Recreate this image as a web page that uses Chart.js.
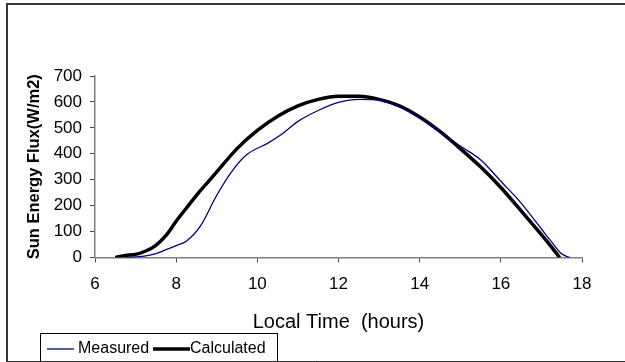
<!DOCTYPE html>
<html>
<head>
<meta charset="utf-8">
<script src="https://cdn.jsdelivr.net/npm/chart.js@4"></script>
<style>
  html, body { margin: 0; padding: 0; background: #fff; }
  canvas { display: block; }
</style>
</head>
<body>
<canvas id="chart" width="625" height="362"></canvas>
<script>
// tijd (uur) en gemeten / berekende flux (W/m2)
const measuredTime = [6.75, 7.0, 7.25, 7.5, 7.75, 8.0, 8.25, 8.6, 9.0, 9.4, 9.75, 10.25, 10.6, 11.0, 11.5, 12.0, 12.5, 13.0, 13.5, 14.0, 14.5, 14.8, 15.0, 15.5, 16.0, 16.5, 17.0, 17.25, 17.5, 17.7];
const measuredFlux = [0, 2, 6, 15, 30, 46, 63, 122, 240, 338, 398, 440, 475, 525, 567, 598, 610, 608, 583, 540, 485, 452, 430, 377, 294, 210, 110, 60, 14, 0];

const calcTime = [6.5, 6.75, 7.0, 7.25, 7.5, 7.75, 8.0, 8.25, 8.5, 8.75, 9.0, 9.5, 10.0, 10.5, 11.0, 11.5, 12.0, 12.5, 13.0, 13.5, 14.0, 14.5, 15.0, 15.5, 16.0, 16.5, 17.0, 17.25, 17.45];
const calcFlux = [0, 8, 12, 25, 47, 85, 140, 190, 240, 285, 330, 420, 490, 545, 585, 610, 622, 622, 610, 585, 542, 486, 420, 350, 270, 180, 88, 40, 0];

const seriesNames = ["Measured", "Calculated"];
const xTitle = "Local Time  (hours)";
const yTitle = "Sun Energy Flux(W/m2)";

const FONT = 'Arial, "Liberation Sans", sans-serif';

const toPoints = (xs, ys) => xs.map((x, i) => ({ x: x, y: ys[i] }));

// witte achtergrond, kader en legenda met rand
const framePlugin = {
    id: 'frame',
    beforeDraw(chart) {
        const c = chart.ctx;
        c.save();
        c.fillStyle = '#fff';
        c.fillRect(0, 0, chart.width, chart.height);
        c.restore();
    },
    afterDraw(chart) {
        const c = chart.ctx;
        c.save();
        c.strokeStyle = '#333';
        c.lineWidth = 2;
        c.beginPath();
        c.moveTo(7, 361);
        c.lineTo(7, 4);
        c.lineTo(625, 4);
        c.stroke();
        c.lineWidth = 1;
        c.beginPath();
        c.moveTo(6, 361.5);
        c.lineTo(625, 361.5);
        c.stroke();

        // legenda
        c.strokeStyle = '#000';
        c.lineWidth = 1;
        c.strokeRect(40.5, 333.5, 237, 30);
        c.font = '16px ' + FONT;
        c.textBaseline = 'middle';
        c.fillStyle = '#000';
        const ds = chart.data.datasets;
        const y = 349;
        c.strokeStyle = ds[0].borderColor;
        c.lineWidth = 1.3;
        c.beginPath(); c.moveTo(47, y); c.lineTo(74, y); c.stroke();
        c.fillText(ds[0].label, 78, y);
        c.strokeStyle = ds[1].borderColor;
        c.lineWidth = 3.5;
        c.beginPath(); c.moveTo(153, y); c.lineTo(190, y); c.stroke();
        c.fillText(ds[1].label, 190, y);
        c.restore();
    }
};

new Chart(document.getElementById('chart').getContext('2d'), {
    type: 'line',
    data: {
        datasets: [{
            label: seriesNames[0],
            data: toPoints(measuredTime, measuredFlux),
            borderColor: '#000080',
            borderWidth: 1.3,
            pointRadius: 0,
            cubicInterpolationMode: 'monotone',
            fill: false
        }, {
            label: seriesNames[1],
            data: toPoints(calcTime, calcFlux),
            borderColor: '#000',
            borderWidth: 3.5,
            pointRadius: 0,
            cubicInterpolationMode: 'monotone',
            fill: false
        }]
    },
    options: {
        responsive: false,
        animation: false,
        devicePixelRatio: 1,
        layout: { padding: { left: 0, right: 43, top: 76, bottom: 0 } },
        plugins: {
            legend: { display: false },
            tooltip: { enabled: false }
        },
        scales: {
            x: {
                type: 'linear',
                min: 6,
                max: 18,
                ticks: { stepSize: 2, color: '#000', padding: 12, font: { family: FONT, size: 17 } },
                grid: { drawOnChartArea: false, drawTicks: true, tickLength: 5, color: '#444' },
                border: { color: '#808080', width: 1.5 },
                title: {
                    display: true,
                    text: xTitle,
                    color: '#000',
                    font: { family: FONT, size: 20 },
                    padding: { top: 0, bottom: 28 }
                },
                afterFit(scale) { scale.height = 104.5; }
            },
            y: {
                min: 0,
                max: 700,
                ticks: { stepSize: 100, color: '#000', padding: 8, font: { family: FONT, size: 17 } },
                grid: { drawOnChartArea: false, drawTicks: true, tickLength: 5, color: '#444' },
                border: { color: '#808080', width: 1.5 },
                title: {
                    display: true,
                    text: yTitle,
                    color: '#000',
                    font: { family: FONT, size: 16.5, weight: 'bold' },
                    padding: { top: 25, bottom: 0 }
                },
                afterFit(scale) { scale.width = 95; }
            }
        }
    },
    plugins: [framePlugin]
});
</script>
</body>
</html>
